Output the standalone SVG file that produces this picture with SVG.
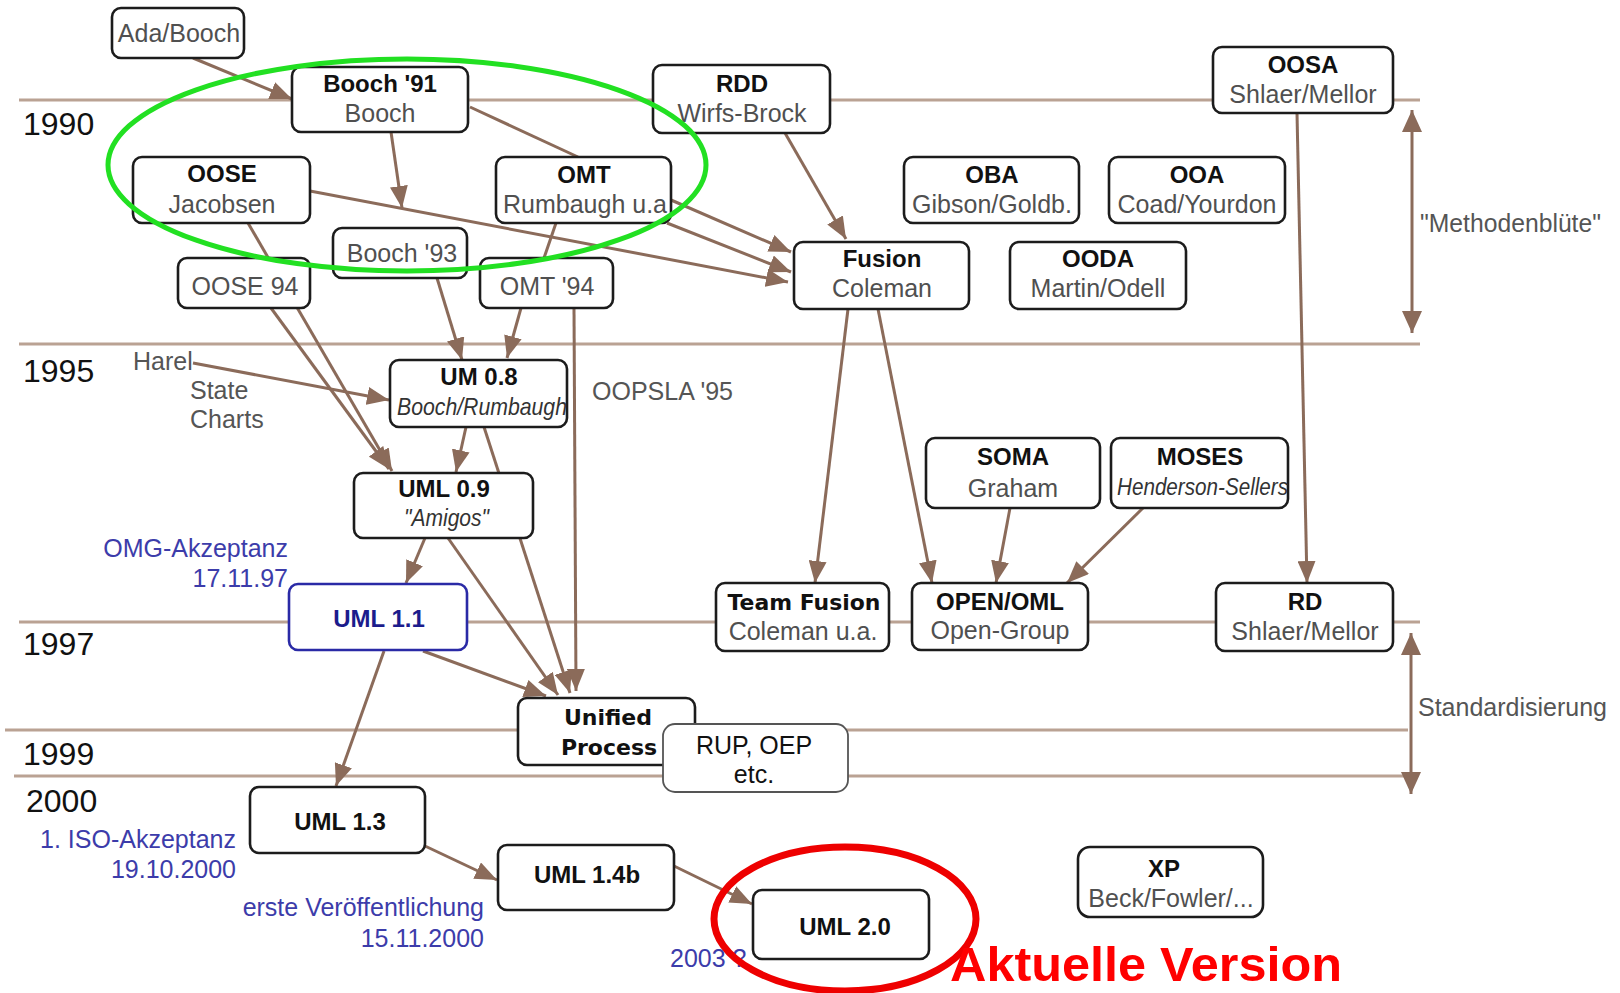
<svg xmlns="http://www.w3.org/2000/svg" width="1620" height="993" viewBox="0 0 1620 993">
<style>
.bg{fill:#fff}
.yl{stroke:#baa293;stroke-width:3;fill:none}
.c{stroke:#8b6b5a;stroke-width:3;fill:none}
.ca{stroke:#8b6b5a;stroke-width:3;fill:none;marker-end:url(#ah)}
.box{fill:#fff;stroke:#1c1c1c;stroke-width:2.6}
.t{font-family:"Liberation Sans",Arial,sans-serif;font-weight:bold;font-size:24px;fill:#111;text-anchor:middle}
.v{font-family:"DejaVu Sans",Verdana,sans-serif;font-weight:bold;font-size:22px;fill:#111;text-anchor:middle}
.s{font-family:"Liberation Sans",Arial,sans-serif;font-size:25px;fill:#505050;text-anchor:middle}
.i{font-family:"Liberation Sans",Arial,sans-serif;font-size:24px;font-style:italic;fill:#333}
.yr{font-family:"Liberation Sans",Arial,sans-serif;font-size:32px;fill:#111}
.g{font-family:"Liberation Sans",Arial,sans-serif;font-size:25px;fill:#555}
.bl{font-family:"Liberation Sans",Arial,sans-serif;font-size:25px;fill:#3c3caa;text-anchor:end}
</style>
<defs>
<marker id="ah" markerUnits="userSpaceOnUse" markerWidth="22" markerHeight="18" refX="22" refY="9" orient="auto" viewBox="0 0 22 18"><path d="M0,0 L22,9 L0,18 z" fill="#8b6b5a"/></marker>
<marker id="ah2" markerUnits="userSpaceOnUse" markerWidth="22" markerHeight="20" refX="22" refY="10" orient="auto-start-reverse" viewBox="0 0 22 20"><path d="M0,0 L22,10 L0,20 z" fill="#8b6b5a"/></marker>
</defs>
<rect class="bg" x="0" y="0" width="1620" height="993"/>

<g id="timeline">
<line class="yl" x1="19" y1="100" x2="1420" y2="100"/>
<line class="yl" x1="19" y1="344" x2="1420" y2="344"/>
<line class="yl" x1="19" y1="622" x2="1420" y2="622"/>
<line class="yl" x1="5" y1="730" x2="1408" y2="730"/>
<line class="yl" x1="14" y1="776" x2="1408" y2="776"/>
<text class="yr" x="23" y="135">1990</text>
<text class="yr" x="23" y="382">1995</text>
<text class="yr" x="23" y="655">1997</text>
<text class="yr" x="23" y="765">1999</text>
<text class="yr" x="26" y="812">2000</text>
</g>

<g id="connectors">
<line class="ca" x1="193" y1="58" x2="292" y2="99"/>
<line class="ca" x1="391" y1="132" x2="402" y2="208"/>
<line class="c" x1="470" y1="107" x2="578" y2="157"/>
<line class="ca" x1="310" y1="191" x2="788" y2="282"/>
<line class="ca" x1="671" y1="200" x2="791" y2="252"/>
<line class="ca" x1="667" y1="223" x2="791" y2="272"/>
<line class="ca" x1="785" y1="133" x2="846" y2="239"/>
<line class="c" x1="556" y1="223" x2="544" y2="258"/>
<line class="ca" x1="248" y1="223" x2="392" y2="471"/>
<line class="ca" x1="271" y1="308" x2="389" y2="469"/>
<line class="ca" x1="437" y1="278" x2="462" y2="360"/>
<line class="ca" x1="521" y1="308" x2="507" y2="358"/>
<line class="ca" x1="193" y1="363" x2="389" y2="400"/>
<line class="ca" x1="466" y1="427" x2="456" y2="472"/>
<line class="ca" x1="484" y1="427" x2="570" y2="693"/>
<line class="ca" x1="448" y1="538" x2="558" y2="695"/>
<line class="ca" x1="574" y1="308" x2="576" y2="691"/>
<line class="ca" x1="423" y1="651" x2="546" y2="696"/>
<line class="ca" x1="425" y1="538" x2="406" y2="583"/>
<line class="ca" x1="384" y1="651" x2="336" y2="786"/>
<line class="ca" x1="425" y1="846" x2="497" y2="880"/>
<line class="ca" x1="674" y1="866" x2="752" y2="904"/>
<line class="ca" x1="848" y1="309" x2="815" y2="583"/>
<line class="ca" x1="878" y1="309" x2="932" y2="583"/>
<line class="ca" x1="1010" y1="508" x2="996" y2="583"/>
<line class="ca" x1="1143" y1="508" x2="1067" y2="583"/>
<line class="ca" x1="1297" y1="113" x2="1307" y2="583"/>
<line class="c" x1="1412" y1="110" x2="1412" y2="333" marker-start="url(#ah2)" marker-end="url(#ah2)"/>
<line class="c" x1="1411" y1="633" x2="1411" y2="794" marker-start="url(#ah2)" marker-end="url(#ah2)"/>
</g>

<g id="labels">
<text class="g" x="133" y="370">Harel</text>
<text class="g" x="190" y="399">State</text>
<text class="g" x="190" y="428">Charts</text>
<text class="g" x="592" y="400">OOPSLA '95</text>
<text class="g" x="1420" y="232" font-size="24" textLength="181" lengthAdjust="spacingAndGlyphs">"Methodenblüte"</text>
<text class="g" x="1418" y="716" font-size="24">Standardisierung</text>
<text class="bl" x="288" y="557">OMG-Akzeptanz</text>
<text class="bl" x="288" y="587">17.11.97</text>
<text class="bl" x="236" y="848">1. ISO-Akzeptanz</text>
<text class="bl" x="236" y="878">19.10.2000</text>
<text class="bl" x="484" y="916">erste Veröffentlichung</text>
<text class="bl" x="484" y="947">15.11.2000</text>
<text class="bl" x="670" y="967" style="text-anchor:start">2003 ?</text>
</g>

<g id="n-adabooch"><rect class="box" x="112" y="8" width="132" height="50" rx="9"/><text class="s" x="179" y="42">Ada/Booch</text></g>
<g id="n-booch91"><rect class="box" x="292" y="67" width="176" height="65" rx="9"/><text class="t" x="380" y="92">Booch '91</text><text class="s" x="380" y="122">Booch</text></g>
<g id="n-oose"><rect class="box" x="133" y="157" width="177" height="66" rx="9"/><text class="t" x="222" y="182">OOSE</text><text class="s" x="222" y="213">Jacobsen</text></g>
<g id="n-omt"><rect class="box" x="496" y="157" width="175" height="66" rx="9"/><text class="t" x="584" y="183">OMT</text><text class="s" x="585" y="213">Rumbaugh u.a</text></g>
<g id="n-booch93"><rect class="box" x="333" y="228" width="134" height="50" rx="9"/><text class="s" x="402" y="262">Booch '93</text></g>
<g id="n-oose94"><rect class="box" x="178" y="258" width="132" height="50" rx="9"/><text class="s" x="245" y="295">OOSE 94</text></g>
<g id="n-omt94"><rect class="box" x="480" y="258" width="133" height="50" rx="9"/><text class="s" x="547" y="295">OMT '94</text></g>
<g id="n-rdd"><rect class="box" x="653" y="65" width="177" height="68" rx="9"/><text class="t" x="742" y="92">RDD</text><text class="s" x="742" y="122">Wirfs-Brock</text></g>
<g id="n-oosa"><rect class="box" x="1213" y="47" width="180" height="66" rx="9"/><text class="t" x="1303" y="73">OOSA</text><text class="s" x="1303" y="103">Shlaer/Mellor</text></g>
<g id="n-oba"><rect class="box" x="904" y="157" width="175" height="66" rx="9"/><text class="t" x="992" y="183">OBA</text><text class="s" x="992" y="213">Gibson/Goldb.</text></g>
<g id="n-ooa"><rect class="box" x="1109" y="157" width="176" height="66" rx="9"/><text class="t" x="1197" y="183">OOA</text><text class="s" x="1197" y="213">Coad/Yourdon</text></g>
<g id="n-fusion"><rect class="box" x="794" y="242" width="175" height="67" rx="9"/><text class="t" x="882" y="267">Fusion</text><text class="s" x="882" y="297">Coleman</text></g>
<g id="n-ooda"><rect class="box" x="1010" y="242" width="176" height="67" rx="9"/><text class="t" x="1098" y="267">OODA</text><text class="s" x="1098" y="297">Martin/Odell</text></g>
<g id="n-um08"><rect class="box" x="390" y="360" width="177" height="67" rx="9"/><text class="t" x="479" y="385">UM 0.8</text><text class="i" x="397" y="415" textLength="170" lengthAdjust="spacingAndGlyphs">Booch/Rumbaugh</text></g>
<g id="n-uml09"><rect class="box" x="354" y="473" width="179" height="65" rx="9"/><text class="t" x="444" y="497">UML 0.9</text><text class="i" x="404" y="526" textLength="85" lengthAdjust="spacingAndGlyphs">"Amigos"</text></g>
<g id="n-uml11"><rect x="289" y="584" width="178" height="66" rx="9" fill="#fff" stroke="#2a2aa6" stroke-width="2.6"/><text class="t" x="379" y="627" font-size="25" style="fill:#1c1c8c">UML 1.1</text></g>
<g id="n-soma"><rect class="box" x="926" y="438" width="174" height="70" rx="9"/><text class="t" x="1013" y="465">SOMA</text><text class="s" x="1013" y="497">Graham</text></g>
<g id="n-moses"><rect class="box" x="1111" y="438" width="177" height="70" rx="9"/><text class="t" x="1200" y="465">MOSES</text><text class="i" x="1117" y="495" textLength="171" lengthAdjust="spacingAndGlyphs">Henderson-Sellers</text></g>
<g id="n-teamfusion"><rect class="box" x="716" y="583" width="173" height="68" rx="9"/><text class="v" x="804" y="610" textLength="153" lengthAdjust="spacingAndGlyphs">Team Fusion</text><text class="s" x="803" y="640">Coleman u.a.</text></g>
<g id="n-openoml"><rect class="box" x="912" y="583" width="176" height="67" rx="9"/><text class="t" x="1000" y="610">OPEN/OML</text><text class="s" x="1000" y="639">Open-Group</text></g>
<g id="n-rd"><rect class="box" x="1216" y="583" width="177" height="68" rx="9"/><text class="t" x="1305" y="610">RD</text><text class="s" x="1305" y="640">Shlaer/Mellor</text></g>
<g id="n-up"><rect class="box" x="518" y="698" width="177" height="67" rx="9"/><text class="v" x="608" y="725">Unified</text><text class="v" x="609" y="755">Process</text></g>
<g id="n-rup"><rect x="663" y="724" width="185" height="68" rx="12" fill="#fff" stroke="#555" stroke-width="1.8"/><text class="s" x="754" y="754" font-size="26" style="fill:#111">RUP, OEP</text><text class="s" x="754" y="783" font-size="26" style="fill:#111">etc.</text></g>
<g id="n-uml13"><rect class="box" x="250" y="787" width="175" height="66" rx="9"/><text class="t" x="340" y="830">UML 1.3</text></g>
<g id="n-uml14b"><rect class="box" x="498" y="845" width="176" height="65" rx="9"/><text class="t" x="587" y="883">UML 1.4b</text></g>
<g id="n-uml20"><rect class="box" x="753" y="890" width="176" height="69" rx="9"/><text class="t" x="845" y="935">UML 2.0</text></g>
<g id="n-xp"><rect class="box" x="1078" y="847" width="185" height="70" rx="12"/><text class="t" x="1164" y="877">XP</text><text class="s" x="1171" y="907">Beck/Fowler/...</text></g>

<g id="highlights">
<ellipse cx="407" cy="165" rx="299" ry="106" fill="none" stroke="#22e022" stroke-width="5"/>
<ellipse cx="845" cy="919" rx="131" ry="72" fill="none" stroke="#ee0000" stroke-width="7"/>
<text x="950" y="981" font-family="'Liberation Sans',Arial,sans-serif" font-weight="bold" font-size="48" fill="#ff0000" textLength="392" lengthAdjust="spacingAndGlyphs">Aktuelle Version</text>
</g>
</svg>
